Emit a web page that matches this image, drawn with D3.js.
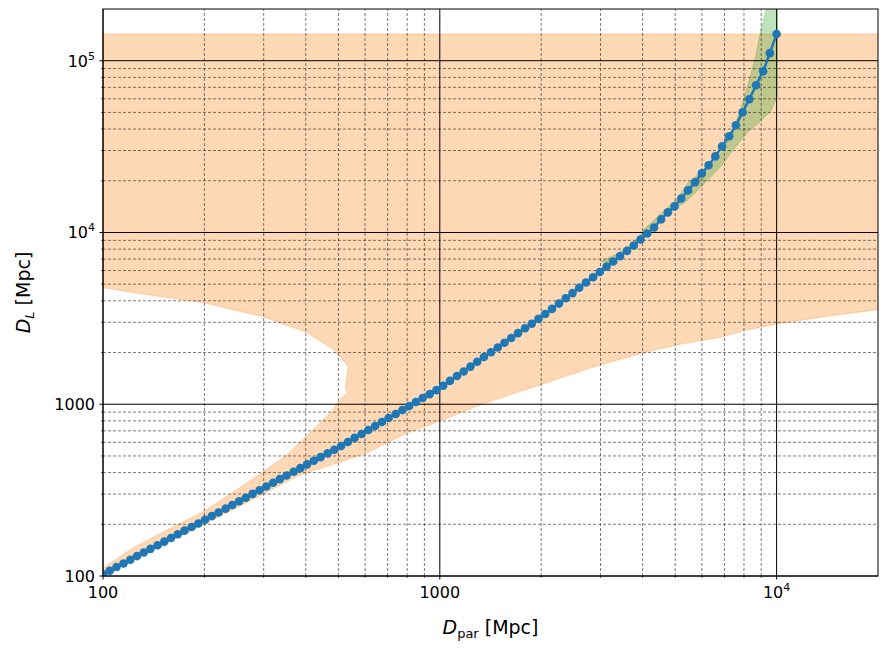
<!DOCTYPE html>
<html>
<head>
<meta charset="utf-8">
<script src="https://cdn.jsdelivr.net/npm/d3@7"></script>
<style>
  body { margin: 0; background: #fff; }
  text { font-family: "DejaVu Sans", sans-serif; }
</style>
</head>
<body>
<div id="chart"></div>
<script>
// log10 of D_par [Mpc] for each blue point
const dparLog = [
  2.000,2.020,2.040,2.061,2.081,2.101,2.121,2.141,2.162,2.182,
  2.202,2.222,2.242,2.263,2.283,2.303,2.323,2.343,2.364,2.384,
  2.404,2.424,2.444,2.465,2.485,2.505,2.525,2.545,2.566,2.586,
  2.606,2.626,2.646,2.667,2.687,2.707,2.727,2.747,2.768,2.788,
  2.808,2.828,2.848,2.869,2.889,2.909,2.929,2.949,2.970,2.990,
  3.010,3.030,3.051,3.071,3.091,3.111,3.131,3.152,3.172,3.192,
  3.212,3.232,3.253,3.273,3.293,3.313,3.333,3.354,3.374,3.394,
  3.414,3.434,3.455,3.475,3.495,3.515,3.535,3.556,3.576,3.596,
  3.616,3.636,3.657,3.677,3.697,3.717,3.737,3.758,3.778,3.798,
  3.818,3.838,3.859,3.879,3.899,3.919,3.939,3.960,3.980,4.000
];
// log10 of D_L [Mpc]
const dlLog = [
  2.010,2.031,2.052,2.073,2.095,2.116,2.137,2.158,2.179,2.200,
  2.221,2.243,2.264,2.285,2.306,2.327,2.349,2.370,2.392,2.413,
  2.435,2.456,2.478,2.499,2.521,2.543,2.564,2.585,2.607,2.628,
  2.650,2.671,2.692,2.714,2.735,2.757,2.780,2.804,2.827,2.850,
  2.873,2.897,2.920,2.943,2.966,2.990,3.013,3.036,3.059,3.082,
  3.108,3.136,3.164,3.191,3.219,3.247,3.275,3.303,3.330,3.358,
  3.386,3.414,3.442,3.469,3.497,3.525,3.555,3.586,3.617,3.647,
  3.678,3.709,3.739,3.770,3.801,3.831,3.862,3.893,3.924,3.959,
  3.994,4.029,4.076,4.117,4.152,4.198,4.245,4.292,4.344,4.391,
  4.443,4.501,4.560,4.624,4.700,4.776,4.857,4.939,5.044,5.155
];

// orange band outline, [D_par, D_L]
const orangeBand = [
  [100, 102.7], [198, 198], [385, 388], [499, 456], [609, 522], [800, 682],
  [937, 759], [1319, 993], [1990, 1300], [3000, 1700], [4027, 1995],
  [5080, 2223], [6955, 2477], [7980, 2683], [10070, 2946], [14480, 3280],
  [20100, 3556], [20100, 143000], [100, 143000],
  [100, 4775], [123, 4467], [198, 3908], [299, 3236], [404, 2612], [483, 2080],
  [499, 1945], [535, 1655], [524, 1248], [531, 1167], [499, 1035], [483, 929],
  [421, 710], [352, 508], [299, 404], [255, 326], [198, 236], [155, 185],
  [123, 146], [100, 111]
];
// green band outline, [D_par, D_L]
const greenBand = [
  [3000, 6780], [3758, 8280], [4027, 10400], [5045, 15560], [5470, 19590],
  [6680, 26670], [7290, 36300], [7815, 52100], [8260, 75000], [8670, 106200],
  [8960, 146600], [9333, 202000], [9450, 261000], [10070, 261000],
  [10070, 199500], [10050, 62000], [9600, 50800], [8960, 44400], [8200, 38300],
  [7450, 30480], [6820, 24270], [6150, 19590], [5470, 15560], [4225, 10840],
  [3862, 9100], [3170, 6780]
];

const xDomain = [100, 20000];
const yDomain = [100, 200000];
const xMajor = [100, 1000, 10000];
const yMajor = [100, 1000, 10000, 100000];

const width = 887, height = 651;
const margin = {top: 9, right: 9, bottom: 75, left: 103};

const x = d3.scaleLog().domain(xDomain).range([margin.left, width - margin.right]);
const y = d3.scaleLog().domain(yDomain).range([height - margin.bottom, margin.top]);

function minorTicks(domain) {
  const out = [];
  for (let e = 2; e <= 5; e++) {
    for (let m = 2; m <= 9; m++) {
      const v = m * Math.pow(10, e);
      if (v > domain[0] && v < domain[1]) out.push(v);
    }
  }
  return out;
}

const svg = d3.select("#chart").append("svg")
  .attr("width", width).attr("height", height);

svg.append("clipPath").attr("id", "plot")
  .append("rect")
  .attr("x", margin.left).attr("y", margin.top)
  .attr("width", width - margin.left - margin.right)
  .attr("height", height - margin.top - margin.bottom);

const x0 = margin.left, x1 = width - margin.right;
const y0 = height - margin.bottom, y1 = margin.top;

// filled bands
const area = d3.line().x(d => x(d[0])).y(d => y(d[1]));
const bands = svg.append("g").attr("clip-path", "url(#plot)");
bands.append("path").attr("d", area(orangeBand) + "Z")
  .attr("fill", "#ff7f0e").attr("fill-opacity", 0.3)
  .attr("stroke", "#ff7f0e").attr("stroke-opacity", 0.3);
bands.append("path").attr("d", area(greenBand) + "Z")
  .attr("fill", "#2ca02c").attr("fill-opacity", 0.3)
  .attr("stroke", "#2ca02c").attr("stroke-opacity", 0.3);

// gridlines
const grid = svg.append("g");
minorTicks(xDomain).forEach(v => grid.append("line")
  .attr("x1", x(v)).attr("x2", x(v)).attr("y1", y0).attr("y2", y1)
  .attr("stroke", "#222").attr("stroke-width", 0.6).attr("stroke-dasharray", "3,2"));
minorTicks(yDomain).forEach(v => grid.append("line")
  .attr("y1", y(v)).attr("y2", y(v)).attr("x1", x0).attr("x2", x1)
  .attr("stroke", "#222").attr("stroke-width", 0.6).attr("stroke-dasharray", "3,2"));
xMajor.forEach(v => grid.append("line")
  .attr("x1", x(v)).attr("x2", x(v)).attr("y1", y0).attr("y2", y1)
  .attr("stroke", "#000").attr("stroke-width", 1));
yMajor.forEach(v => grid.append("line")
  .attr("y1", y(v)).attr("y2", y(v)).attr("x1", x0).attr("x2", x1)
  .attr("stroke", "#000").attr("stroke-width", 1));

// curve
const pts = dparLog.map((d, i) => [Math.pow(10, d), Math.pow(10, dlLog[i])]);
const curve = svg.append("g").attr("clip-path", "url(#plot)");
curve.append("path").attr("d", area(pts))
  .attr("fill", "none").attr("stroke", "#1f77b4").attr("stroke-width", 2.5);
curve.selectAll("circle").data(pts).join("circle")
  .attr("cx", d => x(d[0])).attr("cy", d => y(d[1])).attr("r", 4.3)
  .attr("fill", "#1f77b4");

// frame
svg.append("rect").attr("x", x0).attr("y", y1)
  .attr("width", x1 - x0).attr("height", y0 - y1)
  .attr("fill", "none").attr("stroke", "#000").attr("stroke-width", 1);

// ticks
const ticks = svg.append("g");
xMajor.forEach(v => ticks.append("line").attr("x1", x(v)).attr("x2", x(v))
  .attr("y1", y0).attr("y2", y0 + 3.5).attr("stroke", "#000"));
minorTicks(xDomain).forEach(v => ticks.append("line").attr("x1", x(v)).attr("x2", x(v))
  .attr("y1", y0).attr("y2", y0 + 2).attr("stroke", "#000").attr("stroke-width", 0.6));
yMajor.forEach(v => ticks.append("line").attr("y1", y(v)).attr("y2", y(v))
  .attr("x1", x0).attr("x2", x0 - 3.5).attr("stroke", "#000"));
minorTicks(yDomain).forEach(v => ticks.append("line").attr("y1", y(v)).attr("y2", y(v))
  .attr("x1", x0).attr("x2", x0 - 2).attr("stroke", "#000").attr("stroke-width", 0.6));

function tickLabel(t, v) {
  const e = Math.round(Math.log10(v));
  if (e <= 3) { t.text(v); return; }
  t.append("tspan").text("10");
  t.append("tspan").attr("dy", -7).attr("font-size", 11).text(e);
}
xMajor.forEach(v => tickLabel(ticks.append("text")
  .attr("x", x(v)).attr("y", y0 + 22).attr("text-anchor", "middle")
  .attr("font-size", 16), v));
yMajor.forEach(v => tickLabel(ticks.append("text")
  .attr("x", x0 - 8).attr("y", y(v) + 6).attr("text-anchor", "end")
  .attr("font-size", 16), v));

// axis labels
const xl = svg.append("text").attr("x", (x0 + x1) / 2).attr("y", 634)
  .attr("text-anchor", "middle").attr("font-size", 19);
xl.append("tspan").attr("font-style", "italic").text("D");
xl.append("tspan").attr("font-size", 13).attr("dy", 4).text("par");
xl.append("tspan").attr("dy", -4).text(" [Mpc]");

const yl = svg.append("text")
  .attr("transform", `translate(30,${(y0 + y1) / 2}) rotate(-90)`)
  .attr("text-anchor", "middle").attr("font-size", 19);
yl.append("tspan").attr("font-style", "italic").text("D");
yl.append("tspan").attr("font-style", "italic").attr("font-size", 13).attr("dy", 4).text("L");
yl.append("tspan").attr("dy", -4).text(" [Mpc]");
</script>
</body>
</html>
